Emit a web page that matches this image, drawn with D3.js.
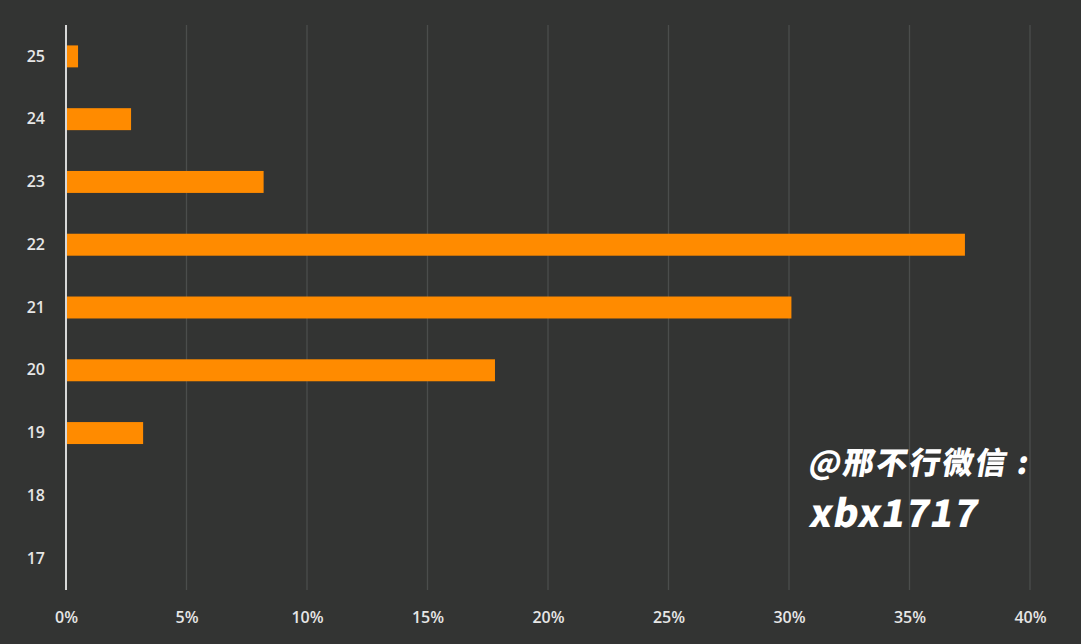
<!DOCTYPE html>
<meta charset="utf-8">
<script src="https://d3js.org/d3.v7.min.js"></script>
<style>
  body { margin: 0; background: #333433; }
</style>
<div id="my_dataviz"></div>
<script>

// categories (bottom to top) and share values in %
var ages = ["17", "18", "19", "20", "21", "22", "23", "24", "25"];
var shares = [0, 0, 3.2, 17.8, 30.1, 37.3, 8.2, 2.7, 0.5];
var xTicks = [0, 5, 10, 15, 20, 25, 30, 35, 40];

var W = 1081, H = 644;
var margin = {top: 25, right: 51, bottom: 54, left: 66},
    width = W - margin.left - margin.right,
    height = H - margin.top - margin.bottom;

var svg = d3.select("#my_dataviz")
  .append("svg")
    .attr("width", W)
    .attr("height", H)
    .style("display", "block");

svg.append("rect")
  .attr("width", W).attr("height", H)
  .attr("fill", "#333433");

var g = svg.append("g")
  .attr("transform", "translate(" + margin.left + "," + margin.top + ")");

var x = d3.scaleLinear()
  .domain([0, 40])
  .range([0, width]);

var y = d3.scaleBand()
  .domain(ages.slice().reverse())
  .range([0, height])
  .paddingInner(0.65)
  .paddingOuter(0.325);

// gridlines
g.append("g")
  .selectAll("line")
  .data(xTicks.slice(1))
  .enter()
  .append("line")
    .attr("x1", function(d) { return x(d); })
    .attr("x2", function(d) { return x(d); })
    .attr("y1", 0)
    .attr("y2", height)
    .attr("stroke", "#4b4d4c")
    .attr("stroke-width", 1.3);

// bars
g.append("g")
  .selectAll("rect")
  .data(ages.map(function(a, i) { return {age: a, v: shares[i]}; }))
  .enter()
  .append("rect")
    .attr("x", 1)
    .attr("y", function(d) { return y(d.age); })
    .attr("width", function(d) { return d.v > 0 ? x(d.v) - 1 : 0; })
    .attr("height", y.bandwidth())
    .attr("fill", "#ff8b00");

// x axis labels
var xAxis = g.append("g")
  .attr("transform", "translate(0," + height + ")")
  .call(d3.axisBottom(x).tickValues(xTicks).tickSize(0).tickPadding(22)
    .tickFormat(function(d) { return d + "%"; }));
xAxis.select(".domain").remove();
xAxis.selectAll("text")
  .attr("fill", "#e6e6e6")
  .style("font-family", "'Open Sans', 'Noto Sans', sans-serif")
  .style("font-weight", "600")
  .style("font-size", "16px");

// y axis labels
var yAxis = g.append("g")
  .call(d3.axisLeft(y).tickSize(0).tickPadding(21));
yAxis.select(".domain").remove();
yAxis.selectAll("text")
  .attr("fill", "#e6e6e6")
  .style("font-family", "'Open Sans', 'Noto Sans', sans-serif")
  .style("font-weight", "600")
  .style("font-size", "16px");

// vertical axis line at 0
g.append("line")
  .attr("x1", 0).attr("x2", 0)
  .attr("y1", 0).attr("y2", height)
  .attr("stroke", "#d8d8d8")
  .attr("stroke-width", 2);

// watermark
svg.append("text")
  .attr("x", 808).attr("y", 474)
  .attr("transform", "skewX(-10) translate(83,0)")
  .attr("fill", "#ffffff")
  .style("font-family", "'Noto Sans CJK SC', sans-serif")
  .style("font-weight", "900")
  .style("font-size", "31px")
  .style("letter-spacing", "2px")
  .text("@邢不行微信 :");

svg.append("text")
  .attr("x", 808).attr("y", 527)
  .attr("transform", "skewX(-10) translate(93,0)")
  .attr("fill", "#ffffff")
  .style("font-family", "'Noto Sans CJK SC', sans-serif")
  .style("font-weight", "900")
  .style("font-size", "38px")
  .style("letter-spacing", "1px")
  .text("xbx1717");

</script>
